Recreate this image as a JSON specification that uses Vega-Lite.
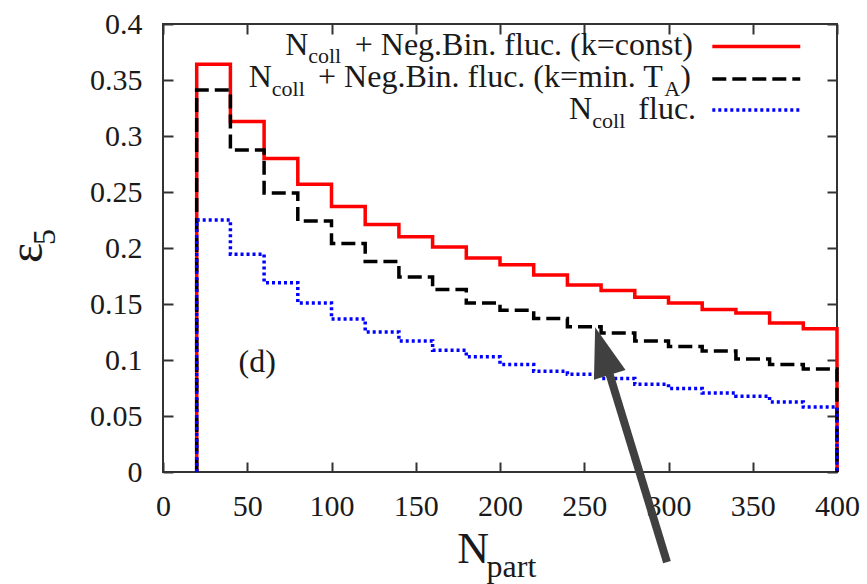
{
  "$schema": "https://vega.github.io/schema/vega-lite/v6.json",
  "width": 674,
  "height": 448,
  "autosize": {"type": "none"},
  "padding": {"left": 163, "top": 24, "right": 30, "bottom": 112},
  "config": {
    "view": {"stroke": "#333333", "strokeWidth": 2},
    "axis": {"domain": false, "grid": false, "tickColor": "#333333", "tickWidth": 2, "tickSize": -10, "labelFlush": false, "labelOverlap": false, "title": null},
    "axisLeft": {"labelPadding": 31, "labelFont": "Liberation Serif", "labelFontSize": 30, "labelColor": "#1a1a1a"},
    "axisBottom": {"labelPadding": 29, "labelFont": "Liberation Serif", "labelFontSize": 30, "labelColor": "#1a1a1a"}
  },
  "datasets": {
    "curves": [
      {"s": "const", "x": 20, "y": 0, "o": 0},
      {"s": "const", "x": 20, "y": 0.364, "o": 1},
      {"s": "const", "x": 40, "y": 0.313, "o": 2},
      {"s": "const", "x": 60, "y": 0.280, "o": 3},
      {"s": "const", "x": 80, "y": 0.257, "o": 4},
      {"s": "const", "x": 100, "y": 0.237, "o": 5},
      {"s": "const", "x": 120, "y": 0.221, "o": 6},
      {"s": "const", "x": 140, "y": 0.210, "o": 7},
      {"s": "const", "x": 160, "y": 0.201, "o": 8},
      {"s": "const", "x": 180, "y": 0.191, "o": 9},
      {"s": "const", "x": 200, "y": 0.185, "o": 10},
      {"s": "const", "x": 220, "y": 0.176, "o": 11},
      {"s": "const", "x": 240, "y": 0.167, "o": 12},
      {"s": "const", "x": 260, "y": 0.162, "o": 13},
      {"s": "const", "x": 280, "y": 0.156, "o": 14},
      {"s": "const", "x": 300, "y": 0.151, "o": 15},
      {"s": "const", "x": 320, "y": 0.145, "o": 16},
      {"s": "const", "x": 340, "y": 0.142, "o": 17},
      {"s": "const", "x": 360, "y": 0.133, "o": 18},
      {"s": "const", "x": 380, "y": 0.128, "o": 19},
      {"s": "const", "x": 400, "y": 0.128, "o": 20},
      {"s": "const", "x": 400, "y": 0, "o": 21},
      {"s": "minTA", "x": 20, "y": 0, "o": 0},
      {"s": "minTA", "x": 20, "y": 0.341, "o": 1},
      {"s": "minTA", "x": 40, "y": 0.2875, "o": 2},
      {"s": "minTA", "x": 60, "y": 0.249, "o": 3},
      {"s": "minTA", "x": 80, "y": 0.224, "o": 4},
      {"s": "minTA", "x": 100, "y": 0.204, "o": 5},
      {"s": "minTA", "x": 120, "y": 0.188, "o": 6},
      {"s": "minTA", "x": 140, "y": 0.174, "o": 7},
      {"s": "minTA", "x": 160, "y": 0.163, "o": 8},
      {"s": "minTA", "x": 180, "y": 0.151, "o": 9},
      {"s": "minTA", "x": 200, "y": 0.1445, "o": 10},
      {"s": "minTA", "x": 220, "y": 0.137, "o": 11},
      {"s": "minTA", "x": 240, "y": 0.1296, "o": 12},
      {"s": "minTA", "x": 260, "y": 0.124, "o": 13},
      {"s": "minTA", "x": 280, "y": 0.117, "o": 14},
      {"s": "minTA", "x": 300, "y": 0.112, "o": 15},
      {"s": "minTA", "x": 320, "y": 0.108, "o": 16},
      {"s": "minTA", "x": 340, "y": 0.101, "o": 17},
      {"s": "minTA", "x": 360, "y": 0.096, "o": 18},
      {"s": "minTA", "x": 380, "y": 0.092, "o": 19},
      {"s": "minTA", "x": 400, "y": 0.092, "o": 20},
      {"s": "minTA", "x": 400, "y": 0, "o": 21},
      {"s": "ncoll", "x": 20, "y": 0, "o": 0},
      {"s": "ncoll", "x": 20, "y": 0.225, "o": 1},
      {"s": "ncoll", "x": 40, "y": 0.1945, "o": 2},
      {"s": "ncoll", "x": 60, "y": 0.169, "o": 3},
      {"s": "ncoll", "x": 80, "y": 0.151, "o": 4},
      {"s": "ncoll", "x": 100, "y": 0.1365, "o": 5},
      {"s": "ncoll", "x": 120, "y": 0.125, "o": 6},
      {"s": "ncoll", "x": 140, "y": 0.117, "o": 7},
      {"s": "ncoll", "x": 160, "y": 0.1088, "o": 8},
      {"s": "ncoll", "x": 180, "y": 0.1028, "o": 9},
      {"s": "ncoll", "x": 200, "y": 0.096, "o": 10},
      {"s": "ncoll", "x": 220, "y": 0.090, "o": 11},
      {"s": "ncoll", "x": 240, "y": 0.0873, "o": 12},
      {"s": "ncoll", "x": 260, "y": 0.0835, "o": 13},
      {"s": "ncoll", "x": 280, "y": 0.0784, "o": 14},
      {"s": "ncoll", "x": 300, "y": 0.0745, "o": 15},
      {"s": "ncoll", "x": 320, "y": 0.0706, "o": 16},
      {"s": "ncoll", "x": 340, "y": 0.0677, "o": 17},
      {"s": "ncoll", "x": 360, "y": 0.0626, "o": 18},
      {"s": "ncoll", "x": 380, "y": 0.058, "o": 19},
      {"s": "ncoll", "x": 400, "y": 0.058, "o": 20},
      {"s": "ncoll", "x": 400, "y": 0, "o": 21}
    ],
    "samples": [
      {"s": "const", "x": 326, "x2": 378.2, "y": 0.3798},
      {"s": "minTA", "x": 326, "x2": 378.2, "y": 0.351},
      {"s": "ncoll", "x": 326, "x2": 378.2, "y": 0.3232}
    ],
    "bigText": [
      {"t": "N", "x": 72.6, "y": 0.3724},
      {"t": "+ Neg.Bin. fluc. (k=const)", "x": 113.8, "y": 0.3724},
      {"t": "N", "x": 50.9, "y": 0.3438},
      {"t": "+ Neg.Bin. fluc. (k=min. T", "x": 92.0, "y": 0.3438},
      {"t": ")", "x": 307.0, "y": 0.3438},
      {"t": "N", "x": 241.0, "y": 0.3156},
      {"t": "fluc.", "x": 282.1, "y": 0.3156},
      {"t": "(d)", "x": 44.8, "y": 0.089}
    ],
    "smallText": [
      {"t": "coll", "x": 86.2, "y": 0.3652},
      {"t": "coll", "x": 64.6, "y": 0.3353},
      {"t": "A", "x": 297.5, "y": 0.3353},
      {"t": "coll", "x": 254.8, "y": 0.3071}
    ],
    "titleMain": [
      {"t": "N", "x": 174.6, "y": -0.0815}
    ],
    "titleSub": [
      {"t": "part", "x": 192, "y": -0.0941}
    ],
    "eps": [
      {"t": "ε", "x": -71.6, "y": 0.1865}
    ],
    "epsSub": [
      {"t": "5", "x": -63.9, "y": 0.2026}
    ],
    "pointer": [
      {"x": 260.8, "y": 0.108, "x2": 299.1, "y2": -0.0804}
    ]
  },
  "resolve": {"axis": {"x": "independent", "y": "independent"}},
  "layer": [
    {
      "data": {"name": "curves"},
      "transform": [{"filter": "datum.s === 'const'"}],
      "mark": {"type": "line", "interpolate": "step-after", "strokeWidth": 3.5, "color": "#ff0000"},
      "encoding": {
        "x": {"field": "x", "type": "quantitative",
              "scale": {"domain": [0, 400], "nice": false, "zero": false},
              "axis": {"orient": "bottom", "values": [0, 50, 100, 150, 200, 250, 300, 350, 400], "labelPadding": 29, "labelFont": "Liberation Serif", "labelFontSize": 30, "labelColor": "#1a1a1a"}},
        "y": {"field": "y", "type": "quantitative",
              "scale": {"domain": [0, 0.4], "nice": false, "zero": false},
              "axis": {"orient": "left", "values": [0, 0.05, 0.1, 0.15, 0.2, 0.25, 0.3, 0.35, 0.4], "format": "~g", "labelPadding": 31, "labelFont": "Liberation Serif", "labelFontSize": 30, "labelColor": "#1a1a1a"}},
        "order": {"field": "o", "type": "quantitative"}
      }
    },
    {
      "data": {"name": "samples"},
      "transform": [{"filter": "datum.s === 'const'"}],
      "mark": {"type": "rule", "strokeWidth": 3.5, "color": "#ff0000"},
      "encoding": {
        "x": {"field": "x", "type": "quantitative", "axis": {"orient": "top", "values": [0, 50, 100, 150, 200, 250, 300, 350, 400], "labels": false}},
        "x2": {"field": "x2"},
        "y": {"field": "y", "type": "quantitative", "axis": {"orient": "right", "values": [0, 0.05, 0.1, 0.15, 0.2, 0.25, 0.3, 0.35, 0.4], "labels": false}}
      }
    },
    {
      "data": {"name": "curves"},
      "transform": [{"filter": "datum.s === 'minTA'"}],
      "mark": {"type": "line", "interpolate": "step-after", "strokeWidth": 3.5, "color": "#000000", "strokeDash": [14, 6]},
      "encoding": {
        "x": {"field": "x", "type": "quantitative", "axis": null},
        "y": {"field": "y", "type": "quantitative", "axis": null},
        "order": {"field": "o", "type": "quantitative"}
      }
    },
    {
      "data": {"name": "curves"},
      "transform": [{"filter": "datum.s === 'ncoll'"}],
      "mark": {"type": "line", "interpolate": "step-after", "strokeWidth": 3.5, "color": "#0000ff", "strokeDash": [3, 3]},
      "encoding": {
        "x": {"field": "x", "type": "quantitative", "axis": null},
        "y": {"field": "y", "type": "quantitative", "axis": null},
        "order": {"field": "o", "type": "quantitative"}
      }
    },
    {
      "data": {"name": "samples"},
      "transform": [{"filter": "datum.s === 'minTA'"}],
      "mark": {"type": "rule", "strokeWidth": 3.5, "color": "#000000", "strokeDash": [14, 6]},
      "encoding": {
        "x": {"field": "x", "type": "quantitative", "axis": null},
        "x2": {"field": "x2"},
        "y": {"field": "y", "type": "quantitative", "axis": null}
      }
    },
    {
      "data": {"name": "samples"},
      "transform": [{"filter": "datum.s === 'ncoll'"}],
      "mark": {"type": "rule", "strokeWidth": 3.5, "color": "#0000ff", "strokeDash": [3, 3]},
      "encoding": {
        "x": {"field": "x", "type": "quantitative", "axis": null},
        "x2": {"field": "x2"},
        "y": {"field": "y", "type": "quantitative", "axis": null}
      }
    },
    {
      "data": {"name": "bigText"},
      "mark": {"type": "text", "font": "Liberation Serif", "color": "#1a1a1a", "fontSize": 32, "align": "left", "baseline": "alphabetic"},
      "encoding": {
        "x": {"field": "x", "type": "quantitative", "axis": null},
        "y": {"field": "y", "type": "quantitative", "axis": null},
        "text": {"field": "t"}
      }
    },
    {
      "data": {"name": "smallText"},
      "mark": {"type": "text", "font": "Liberation Serif", "color": "#1a1a1a", "fontSize": 22, "align": "left", "baseline": "alphabetic"},
      "encoding": {
        "x": {"field": "x", "type": "quantitative", "axis": null},
        "y": {"field": "y", "type": "quantitative", "axis": null},
        "text": {"field": "t"}
      }
    },
    {
      "data": {"name": "titleMain"},
      "mark": {"type": "text", "font": "Liberation Serif", "color": "#1a1a1a", "fontSize": 44, "align": "left", "baseline": "alphabetic"},
      "encoding": {"x": {"field": "x", "type": "quantitative", "axis": null}, "y": {"field": "y", "type": "quantitative", "axis": null}, "text": {"field": "t"}}
    },
    {
      "data": {"name": "titleSub"},
      "mark": {"type": "text", "font": "Liberation Serif", "color": "#1a1a1a", "fontSize": 32, "align": "left", "baseline": "alphabetic"},
      "encoding": {"x": {"field": "x", "type": "quantitative", "axis": null}, "y": {"field": "y", "type": "quantitative", "axis": null}, "text": {"field": "t"}}
    },
    {
      "data": {"name": "eps"},
      "mark": {"type": "text", "font": "Liberation Serif", "color": "#1a1a1a", "fontSize": 48, "align": "left", "baseline": "alphabetic", "angle": 270},
      "encoding": {"x": {"field": "x", "type": "quantitative", "axis": null}, "y": {"field": "y", "type": "quantitative", "axis": null}, "text": {"field": "t"}}
    },
    {
      "data": {"name": "epsSub"},
      "mark": {"type": "text", "font": "Liberation Serif", "color": "#1a1a1a", "fontSize": 32, "align": "left", "baseline": "alphabetic", "angle": 270},
      "encoding": {"x": {"field": "x", "type": "quantitative", "axis": null}, "y": {"field": "y", "type": "quantitative", "axis": null}, "text": {"field": "t"}}
    },
    {
      "data": {"name": "pointer"},
      "mark": {"type": "rule", "color": "#404040", "strokeWidth": 8, "strokeCap": "butt"},
      "encoding": {"x": {"field": "x", "type": "quantitative", "axis": null}, "y": {"field": "y", "type": "quantitative", "axis": null},
                   "x2": {"field": "x2"}, "y2": {"field": "y2"}}
    },
    {
      "data": {"name": "pointer"},
      "mark": {"type": "point", "shape": "M0,-1L0.66,1L-0.66,1Z", "filled": true, "opacity": 1, "color": "#404040", "size": 2500, "angle": 343, "strokeWidth": 0},
      "encoding": {"x": {"field": "x", "type": "quantitative", "axis": null}, "y": {"field": "y", "type": "quantitative", "axis": null}}
    }
  ]
}
